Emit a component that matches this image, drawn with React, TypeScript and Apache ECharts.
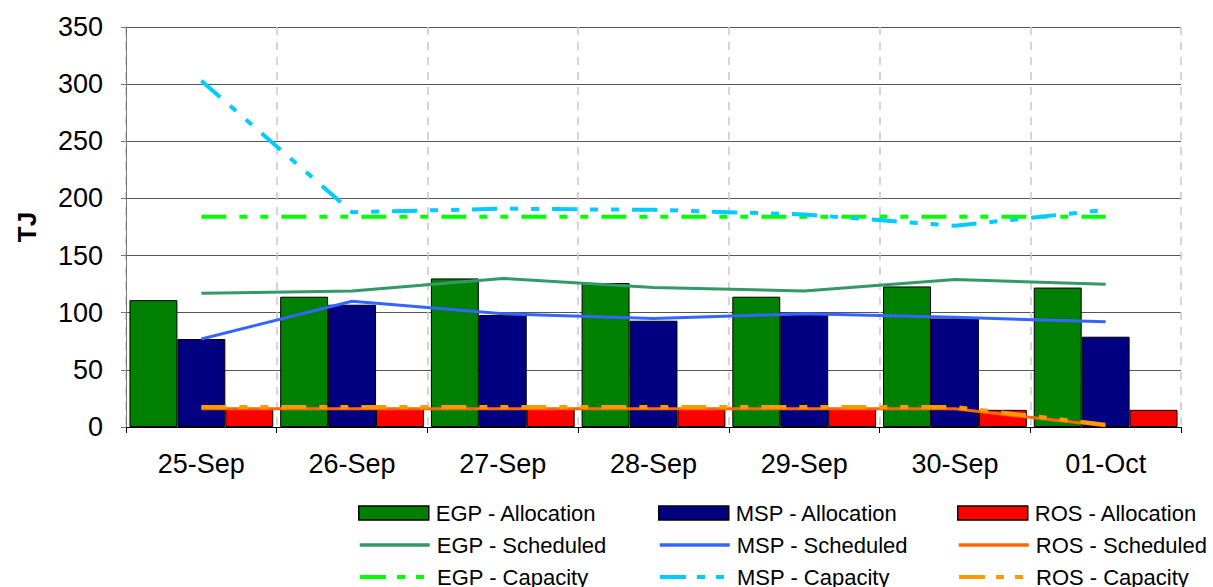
import React, { useEffect, useRef } from "react";
import * as echarts from "echarts";

const categories = ["25-Sep", "26-Sep", "27-Sep", "28-Sep", "29-Sep", "30-Sep", "01-Oct"];
const yTicks = [0, 50, 100, 150, 200, 250, 300, 350];

const egpAllocation = [111, 114, 130, 126, 114, 123, 122];
const mspAllocation = [77, 107, 98, 93, 100, 95, 79];
const rosAllocation = [16, 16, 16, 16, 16, 15, 15];

const egpScheduled = [117, 119, 130, 122, 119, 129, 125];
const mspScheduled = [77, 110, 99, 95, 99, 96, 92];
const rosScheduled = [16, 16, 16, 16, 16, 16, 1];

const egpCapacity = [184, 184, 184, 184, 184, 184, 184];
const mspCapacity = [303, 188, 191, 190, 186, 176, 190];
const rosCapacity = [17.5, 17.5, 17.5, 17.5, 17.5, 17.5, 2];

const FONT = "'Liberation Sans', Arial, sans-serif";
const capDash = [25, 13, 8, 13, 8, 13];
const legendDash = [26, 11, 8, 11, 8, 11];

export default function App() {
  const ref = useRef<HTMLDivElement>(null);

  useEffect(() => {
    if (!ref.current) return;
    const chart = echarts.init(ref.current, undefined, { renderer: "svg" });

    const bar = (name: string, data: number[], color: string) => ({
      name,
      type: "bar",
      data,
      barGap: "0%",
      barCategoryGap: "4.6%",
      itemStyle: { color, borderColor: "#000", borderWidth: 1 },
      z: 2,
    });
    const line = (name: string, data: number[], color: string, width: number, type: any) => ({
      name,
      type: "line",
      data,
      symbol: "none",
      lineStyle: { color, width, type },
      itemStyle: { color },
      z: 3,
    });

    const colX = [358, 658, 957];
    const rowCenterY = [513, 545, 577];
    const groups = ["EGP", "MSP", "ROS"];
    const kinds = ["Allocation", "Scheduled", "Capacity"];
    const legends: any[] = [];
    groups.forEach((g, ci) => {
      kinds.forEach((k, ri) => {
        const base: any = {
          orient: "horizontal",
          left: colX[ci],
          top: rowCenterY[ri] - 11,
          padding: 0,
          itemWidth: 70,
          itemHeight: 14,
          selectedMode: false,
          textStyle: { fontFamily: FONT, fontSize: 22, color: "#000", padding: [0, 0, 0, 2] },
          data: [`${g} - ${k}`],
        };
        if (k === "Allocation") {
          base.icon = "rect";
          base.itemStyle = { borderColor: "#000", borderWidth: 1.5 };
        } else {
          base.itemStyle = { opacity: 0 };
          base.lineStyle = k === "Scheduled" ? { width: 3.5, type: "solid" } : { width: 4, type: legendDash };
        }
        legends.push(base);
      });
    });

    chart.setOption({
      animation: false,
      backgroundColor: "#fff",
      grid: { left: 126, right: 32, top: 27, bottom: 160, containLabel: false },
      legend: legends,
      xAxis: {
        type: "category",
        data: categories,
        boundaryGap: true,
        axisLine: { lineStyle: { color: "#000", width: 1 } },
        axisTick: { show: true, length: 6, lineStyle: { color: "#000" } },
        axisLabel: { fontFamily: FONT, fontSize: 27, color: "#000", margin: 23 },
        splitLine: { show: true, lineStyle: { color: "#c8c8c8", type: [8, 7], width: 1.5 } },
      },
      yAxis: {
        type: "value",
        min: yTicks[0],
        max: yTicks[yTicks.length - 1],
        interval: 50,
        name: "TJ",
        nameLocation: "middle",
        nameGap: 86,
        nameRotate: 90,
        nameTextStyle: { fontFamily: FONT, fontSize: 26, fontWeight: "bold", color: "#000" },
        axisLine: { show: true, lineStyle: { color: "#777", width: 1 } },
        axisTick: { show: true, length: 5, lineStyle: { color: "#777" } },
        axisLabel: { fontFamily: FONT, fontSize: 27, color: "#000", margin: 23 },
        splitLine: { show: true, lineStyle: { color: "#555", width: 1 } },
      },
      series: [
        bar("EGP - Allocation", egpAllocation, "#008000"),
        bar("MSP - Allocation", mspAllocation, "#000080"),
        bar("ROS - Allocation", rosAllocation, "#ff0000"),
        line("EGP - Scheduled", egpScheduled, "#339966", 3, "solid"),
        line("MSP - Scheduled", mspScheduled, "#3366ff", 3, "solid"),
        line("ROS - Scheduled", rosScheduled, "#ff6600", 3, "solid"),
        line("EGP - Capacity", egpCapacity, "#00ff00", 4, capDash),
        line("MSP - Capacity", mspCapacity, "#00ccff", 4, capDash),
        line("ROS - Capacity", rosCapacity, "#ff9900", 4, capDash),
      ],
    });

    return () => chart.dispose();
  }, []);

  return <div ref={ref} style={{ width: 1213, height: 587, position: "absolute", left: 0, top: 0 }} />;
}
